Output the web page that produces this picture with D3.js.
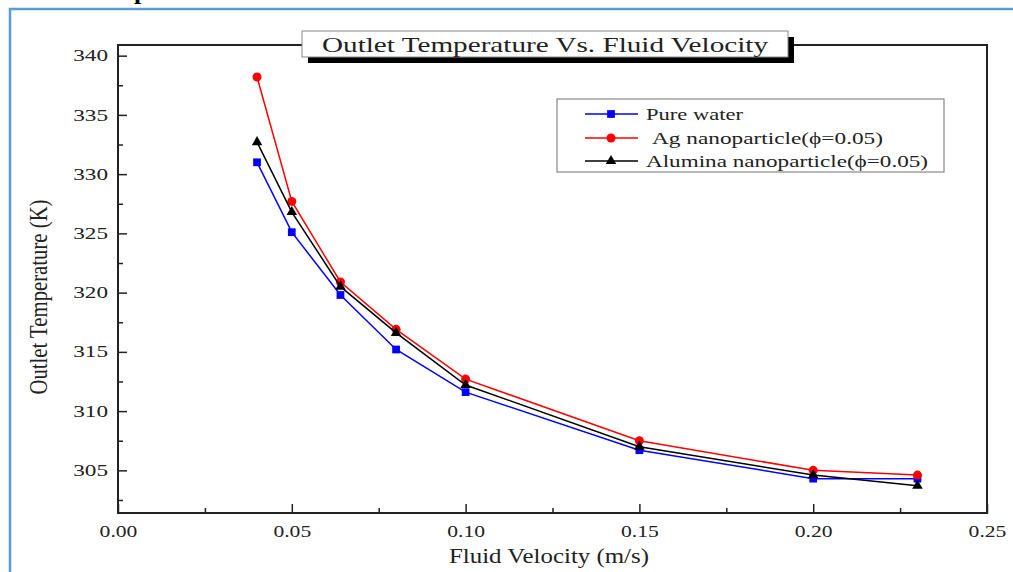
<!DOCTYPE html>
<html>
<head>
<meta charset="utf-8">
<script src="https://cdn.jsdelivr.net/npm/d3@7"></script>
<style>
  html, body { margin: 0; padding: 0; background: #fff; }
  text { font-family: "Liberation Serif", "Times New Roman", serif; }
</style>
</head>
<body>
<div class="a" style="width:1013px;height:572px;"></div>
<script>
// data
const velocity = [0.04, 0.05, 0.064, 0.08, 0.10, 0.15, 0.20, 0.23];
const pureWater = [331.0, 325.1, 319.8, 315.2, 311.6, 306.7, 304.3, 304.3];
const agNano = [338.2, 327.7, 320.9, 316.9, 312.7, 307.5, 305.0, 304.6];
const aluminaNano = [332.7, 326.8, 320.5, 316.6, 312.2, 307.0, 304.6, 303.7];

const seriesNames = ["Pure water", "Ag nanoparticle(\u03D5=0.05)", "Alumina nanoparticle(\u03D5=0.05)"];
const xTicks = [0, 0.05, 0.10, 0.15, 0.20, 0.25];
const xMinorTicks = [0.025, 0.075, 0.125, 0.175, 0.225];
const yTicks = [305, 310, 315, 320, 325, 330, 335, 340];
const yMinorTicks = [302.5, 307.5, 312.5, 317.5, 322.5, 327.5, 332.5, 337.5];

const container = d3.select(".a");
const containerWidth = 1013;
const containerHeight = 572;

const margin = { top: 45, right: 26, bottom: 59, left: 118 };
const width = containerWidth - margin.left - margin.right;
const height = containerHeight - margin.top - margin.bottom;

const root = container.append("svg")
    .attr("width", containerWidth)
    .attr("height", containerHeight);

// stretch text to a target width (the source picture is squashed sideways)
function fitWidth(sel, w) {
    sel.attr("textLength", w).attr("lengthAdjust", "spacingAndGlyphs");
}
function stretch(sel, k) {
    sel.each(function () {
        const w = this.getComputedTextLength();
        d3.select(this).attr("textLength", w * k).attr("lengthAdjust", "spacingAndGlyphs");
    });
}

// blue page frame and cut-off heading
root.append("path")
    .attr("d", "M10,572 L10,9 L1013,9")
    .attr("fill", "none")
    .attr("stroke", "#5b9bd5")
    .attr("stroke-width", 2.5);
root.append("text")
    .attr("x", 134)
    .attr("y", -1)
    .style("font-size", "26px")
    .style("font-weight", "bold")
    .text("p");

const svg = root.append("g")
    .attr("transform", `translate(${margin.left},${margin.top})`);

const x = d3.scaleLinear().domain([0, 0.25]).range([0, width]);
const y = d3.scaleLinear().domain([301.4, 340.9]).range([height, 0]);

// axes (ticks point inward)
const yAxis = svg.append("g")
    .call(d3.axisLeft(y).tickValues(yTicks).tickSize(-9).tickPadding(10).tickFormat(d3.format("d")));
yAxis.select(".domain").remove();
yAxis.selectAll("line").attr("stroke", "#222").attr("stroke-width", 1.5);
yAxis.selectAll("text").style("font-size", "16px").attr("fill", "#222");
stretch(yAxis.selectAll("text"), 1.45);

const yMinor = svg.append("g")
    .call(d3.axisLeft(y).tickValues(yMinorTicks).tickSize(-5).tickFormat(""));
yMinor.select(".domain").remove();
yMinor.selectAll("line").attr("stroke", "#222").attr("stroke-width", 1.5);

const xAxis = svg.append("g")
    .attr("transform", `translate(0,${height})`)
    .call(d3.axisBottom(x).tickValues(xTicks).tickSize(-9).tickPadding(13).tickFormat(d3.format(".2f")));
xAxis.select(".domain").remove();
xAxis.selectAll("line").attr("stroke", "#222").attr("stroke-width", 1.5);
xAxis.selectAll("text").style("font-size", "16px").attr("fill", "#222");
stretch(xAxis.selectAll("text"), 1.35);

const xMinor = svg.append("g")
    .attr("transform", `translate(0,${height})`)
    .call(d3.axisBottom(x).tickValues(xMinorTicks).tickSize(-5).tickFormat(""));
xMinor.select(".domain").remove();
xMinor.selectAll("line").attr("stroke", "#222").attr("stroke-width", 1.5);

// plot frame
svg.append("rect")
    .attr("x", 0)
    .attr("y", 0)
    .attr("width", width)
    .attr("height", height)
    .attr("fill", "none")
    .attr("stroke", "#222")
    .attr("stroke-width", 2);

// series
const series = [
    { name: seriesNames[0], values: pureWater, color: "#0000ff", symbol: d3.symbolSquare, size: 60 },
    { name: seriesNames[1], values: agNano, color: "#ff0000", symbol: d3.symbolCircle, size: 64 },
    { name: seriesNames[2], values: aluminaNano, color: "#000000", symbol: d3.symbolTriangle, size: 48 }
];

const line = d3.line()
    .x(d => x(d[0]))
    .y(d => y(d[1]));

series.forEach(s => {
    const pts = velocity.map((v, i) => [v, s.values[i]]);
    svg.append("path")
        .datum(pts)
        .attr("fill", "none")
        .attr("stroke", s.color)
        .attr("stroke-width", 1.5)
        .attr("d", line);
    svg.selectAll(null)
        .data(pts)
        .join("path")
        .attr("transform", d => `translate(${x(d[0])},${y(d[1])})`)
        .attr("d", d3.symbol().type(s.symbol).size(s.size))
        .attr("fill", s.color);
});

// axis titles
svg.append("text")
    .attr("x", 431)
    .attr("y", 518)
    .attr("text-anchor", "middle")
    .style("font-size", "20px")
    .attr("fill", "#222")
    .text("Fluid Velocity (m/s)")
    .call(fitWidth, 200);

root.append("text")
    .attr("transform", "translate(47,297) rotate(-90) scale(1,1.3)")
    .attr("text-anchor", "middle")
    .style("font-size", "20px")
    .attr("fill", "#222")
    .text("Outlet Temperature (K)")
    .call(fitWidth, 195);

// title box with drop shadow
root.append("rect")
    .attr("x", 308).attr("y", 37)
    .attr("width", 486).attr("height", 26)
    .attr("fill", "#000");
root.append("rect")
    .attr("x", 302).attr("y", 31)
    .attr("width", 486).attr("height", 26)
    .attr("fill", "#fff")
    .attr("stroke", "#888")
    .attr("stroke-width", 1);
root.append("text")
    .attr("x", 545)
    .attr("y", 52)
    .attr("text-anchor", "middle")
    .style("font-size", "22px")
    .attr("fill", "#222")
    .text("Outlet Temperature Vs. Fluid Velocity")
    .call(fitWidth, 446);

// legend
const legend = root.append("g").attr("transform", "translate(557,99)");
legend.append("rect")
    .attr("width", 387)
    .attr("height", 73)
    .attr("fill", "#fff")
    .attr("stroke", "#888")
    .attr("stroke-width", 1.2);

const legendRows = [15, 39, 62];
const legendTextX = [89, 95, 89];
const legendTextW = [97, 231, 282];
series.forEach((s, i) => {
    const row = legend.append("g").attr("transform", `translate(0,${legendRows[i]})`);
    row.append("line")
        .attr("x1", 28).attr("x2", 81)
        .attr("stroke", s.color)
        .attr("stroke-width", 1.5);
    row.append("path")
        .attr("transform", "translate(54,0)")
        .attr("d", d3.symbol().type(s.symbol).size(s.size))
        .attr("fill", s.color);
    row.append("text")
        .attr("x", legendTextX[i])
        .attr("dy", "0.33em")
        .style("font-size", "17px")
        .attr("fill", "#222")
        .text(s.name)
        .call(fitWidth, legendTextW[i]);
});
</script>
</body>
</html>
